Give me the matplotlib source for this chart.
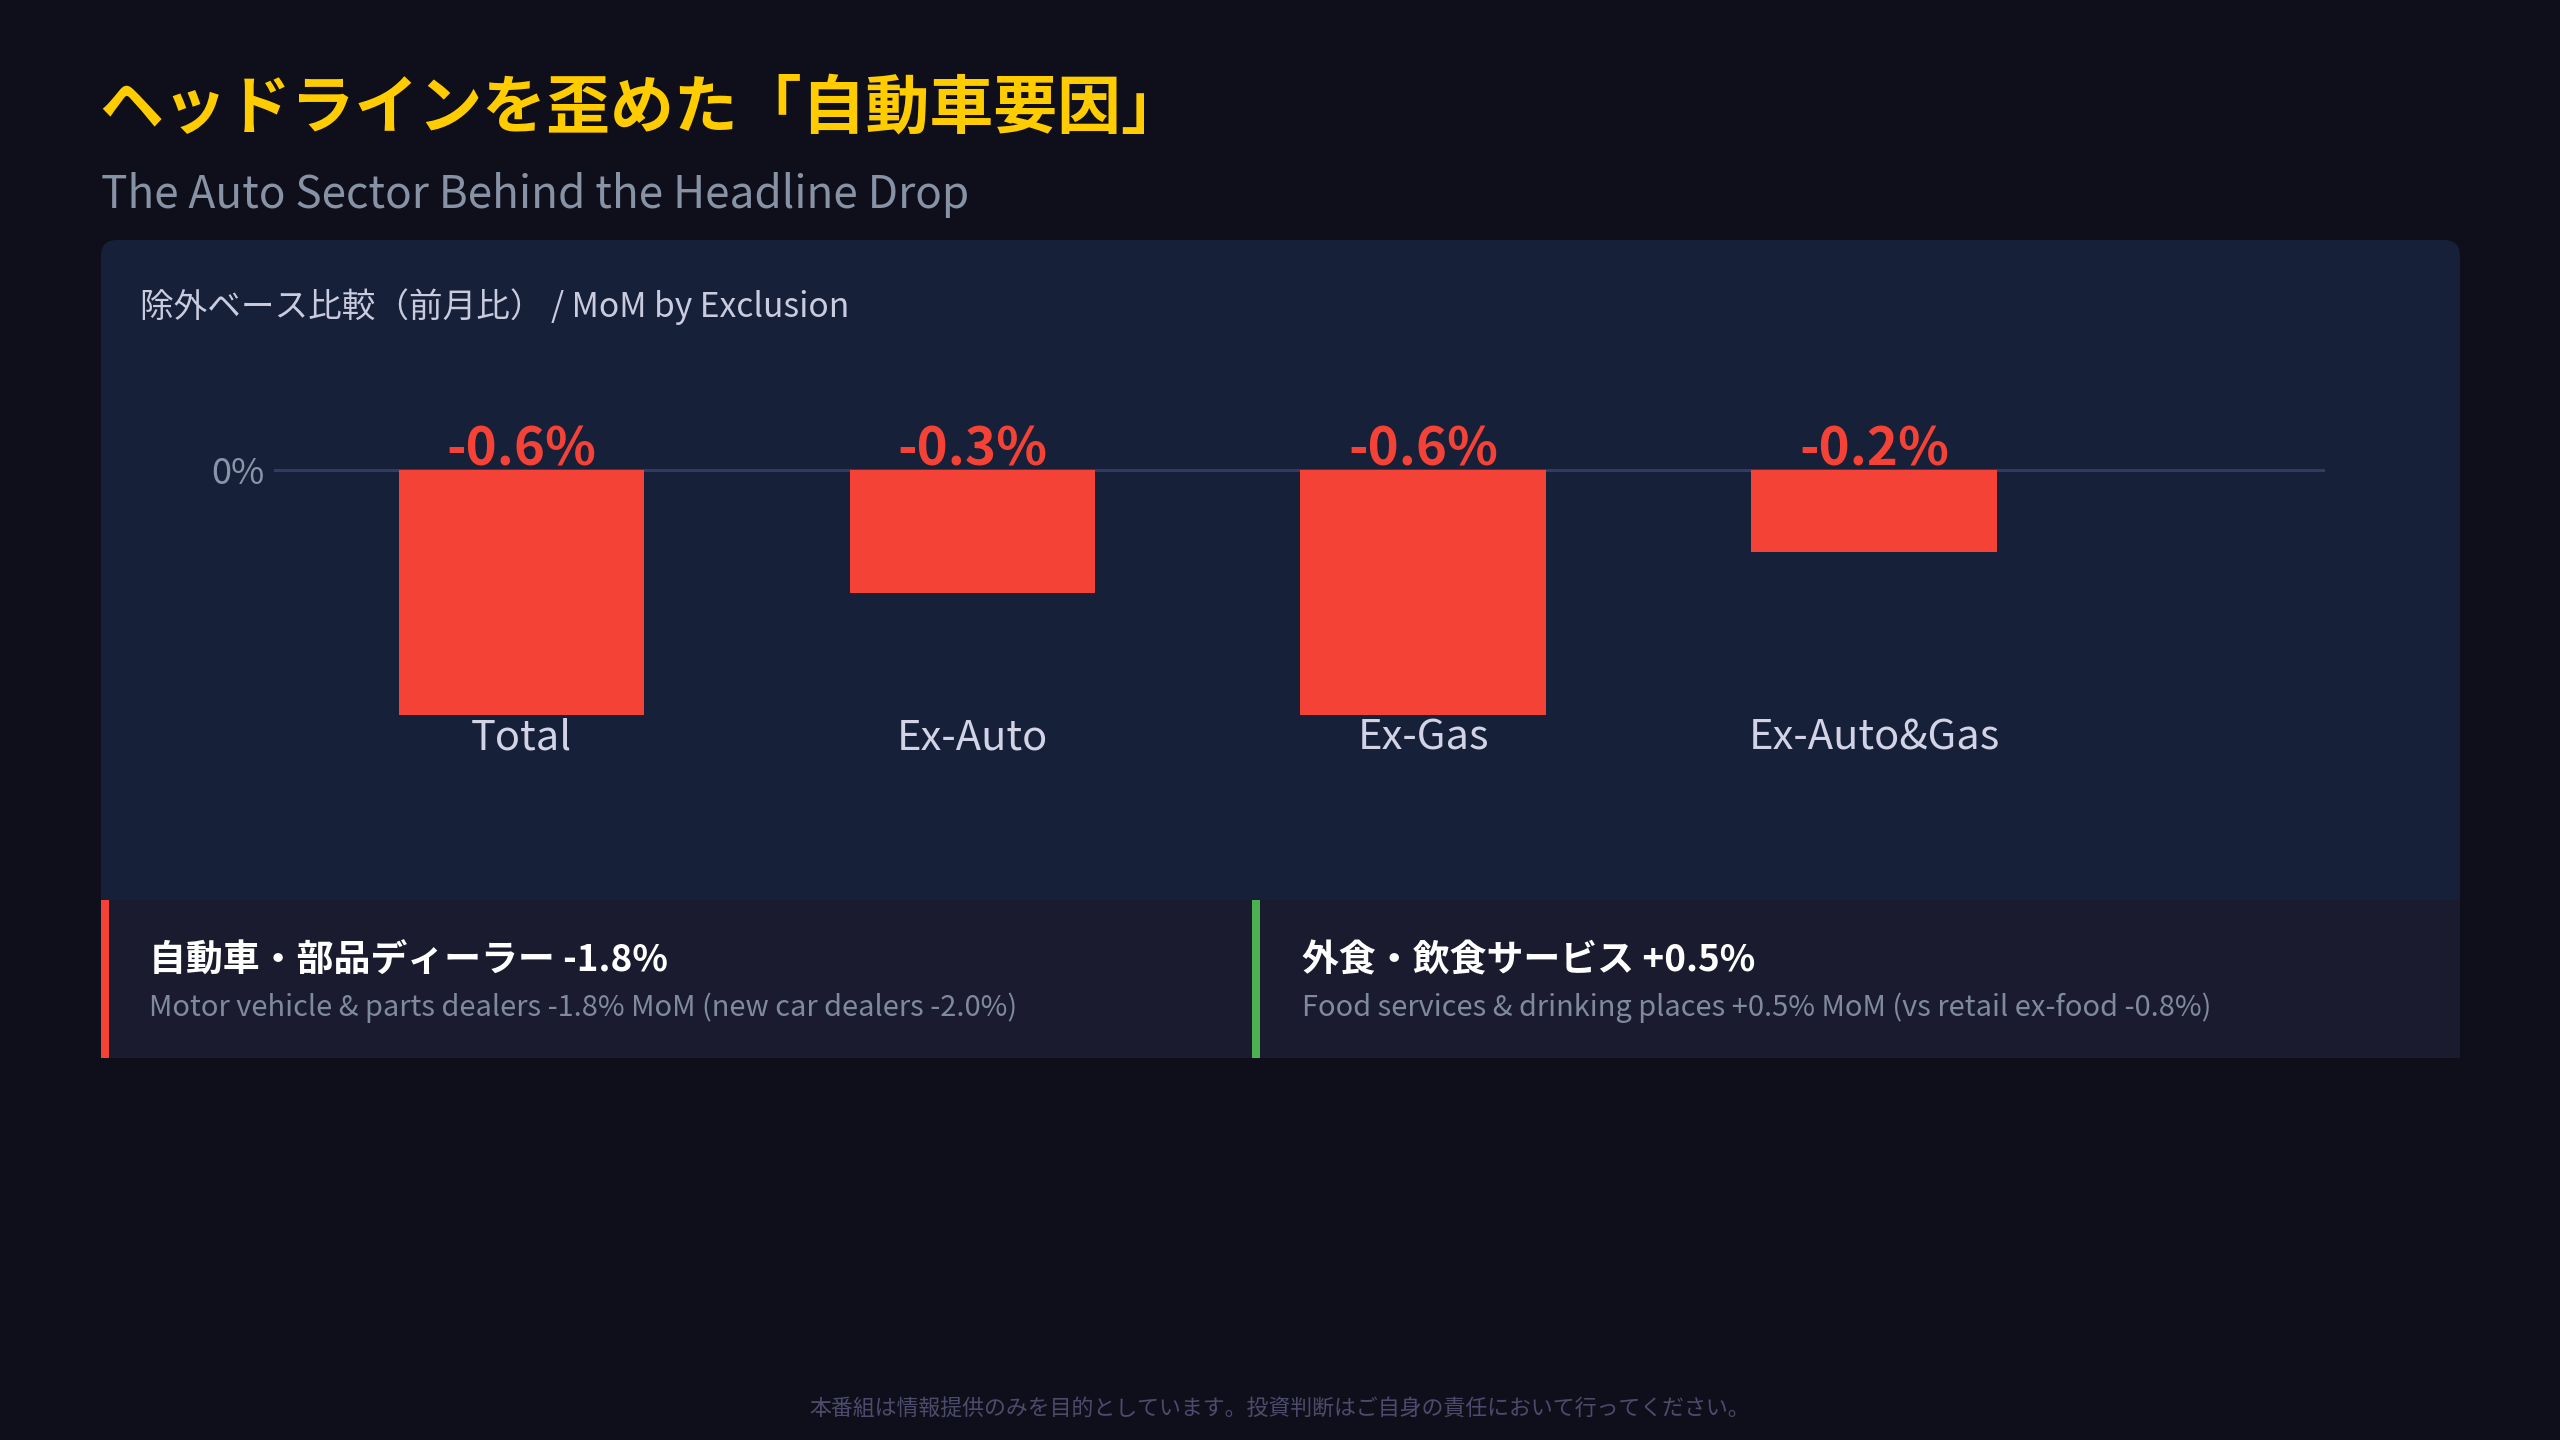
"""
Retail sales: headline vs exclusion-based MoM comparison.
"""

import matplotlib.pyplot as plt
from matplotlib.patches import FancyBboxPatch

plt.rcParams['font.family'] = ['Noto Sans CJK JP', 'DejaVu Sans']

# Data
categories = ['Total', 'Ex-Auto', 'Ex-Gas', 'Ex-Auto&Gas']
mom_values = [-0.6, -0.3, -0.6, -0.2]
value_labels = ['-0.6%', '-0.3%', '-0.6%', '-0.2%']

title = 'ヘッドラインを歪めた「自動車要因」'
subtitle = 'The Auto Sector Behind the Headline Drop'
panel_title = '除外ベース比較（前月比） / MoM by Exclusion'
card_titles = ['自動車・部品ディーラー -1.8%', '外食・飲食サービス +0.5%']
card_notes = [
    'Motor vehicle & parts dealers -1.8% MoM (new car dealers -2.0%)',
    'Food services & drinking places +0.5% MoM (vs retail ex-food -0.8%)',
]
footer = '本番組は情報提供のみを目的としています。投資判断はご自身の責任において行ってください。'

colors = {
    'bg': '#0f0f1c',
    'panel': '#162039',
    'card': '#1a1b2e',
    'bar': '#f44336',
    'red': '#f44336',
    'green': '#4caf50',
    'title': '#ffcc00',
    'subtitle': '#8792a5',
    'panel_title': '#c9cbdf',
    'label': '#d2d3e6',
    'tick': '#8a94a8',
    'zero': '#363a5e',
    'note': '#7f8a9c',
    'footer': '#4c4b6c',
}

W, H, DPI = 2560, 1440, 200


def fx(x):
    return x / W


def fy(y):
    return 1 - y / H


def px_box(fig, x0, y0, x1, y1, color, rounding=0.0):
    """Draw a box given in pixel coordinates (top-left origin)."""
    style = f"round,pad=0,rounding_size={rounding}" if rounding else "square,pad=0"
    patch = FancyBboxPatch((x0 / DPI, (H - y1) / DPI), (x1 - x0) / DPI, (y1 - y0) / DPI,
                           boxstyle=style, transform=fig.dpi_scale_trans,
                           facecolor=color, edgecolor='none', zorder=0)
    fig.add_artist(patch)


fig = plt.figure(figsize=(W / DPI, H / DPI), dpi=DPI, facecolor=colors['bg'])

# Panel and cards
px_box(fig, 101, 240, 2460, 1058, colors['panel'], rounding=0.08)
px_box(fig, 101, 900, 1252, 1058, colors['card'])
px_box(fig, 1252, 900, 2460, 1058, colors['card'])
px_box(fig, 101, 900, 109, 1058, colors['red'])
px_box(fig, 1252, 900, 1260, 1058, colors['green'])

# Header texts
fig.text(fx(99), fy(109), title, color=colors['title'], fontsize=23,
         fontweight='bold', va='center', ha='left')
fig.text(fx(101), fy(195), subtitle, color=colors['subtitle'], fontsize=15.9,
         va='center', ha='left')
fig.text(fx(140), fy(307), panel_title, color=colors['panel_title'], fontsize=12.1,
         va='center', ha='left')

# Bar chart
ymin, ymax = -0.6, 0.2
zero_px, bottom_px = 470, 715
top_px = zero_px - (bottom_px - zero_px) * ymax / (-ymin)
ax = fig.add_axes([fx(274), fy(bottom_px), fx(2325) - fx(274), (bottom_px - top_px) / H])
ax.set_facecolor('none')

x = list(range(len(categories)))
ax.bar(x, mom_values, width=0.545, color=colors['bar'], zorder=3)
ax.axhline(0, color=colors['zero'], linewidth=1.1, zorder=2)

for i, lab in enumerate(value_labels):
    ax.annotate(lab, (x[i], 0), xytext=(0, 7.2), textcoords='offset points',
                ha='center', va='center', color=colors['red'], fontsize=19,
                fontweight='bold')

ax.set_xlim(-0.549, 4.0)
ax.set_ylim(ymin, ymax)
ax.set_xticks(x)
ax.set_xticklabels(categories, fontsize=15, color=colors['label'])
ax.set_yticks([0])
ax.set_yticklabels(['0%'], fontsize=13, color=colors['tick'])
ax.tick_params(axis='x', length=0, pad=0.9)
ax.tick_params(axis='y', length=0, pad=3.3)
for s in ax.spines.values():
    s.set_visible(False)

# Cards
card_x = [149, 1302]
for cx, head, note in zip(card_x, card_titles, card_notes):
    fig.text(fx(cx), fy(961), head, color='white', fontsize=13.3,
             fontweight='bold', va='center', ha='left')
    fig.text(fx(cx), fy(1008), note, color=colors['note'], fontsize=10.45,
             va='center', ha='left')

# Footer
fig.text(0.5, fy(1410), footer, color=colors['footer'], fontsize=7.9,
         va='center', ha='center')

plt.savefig('out.png', dpi=DPI, facecolor=colors['bg'])
plt.close(fig)
